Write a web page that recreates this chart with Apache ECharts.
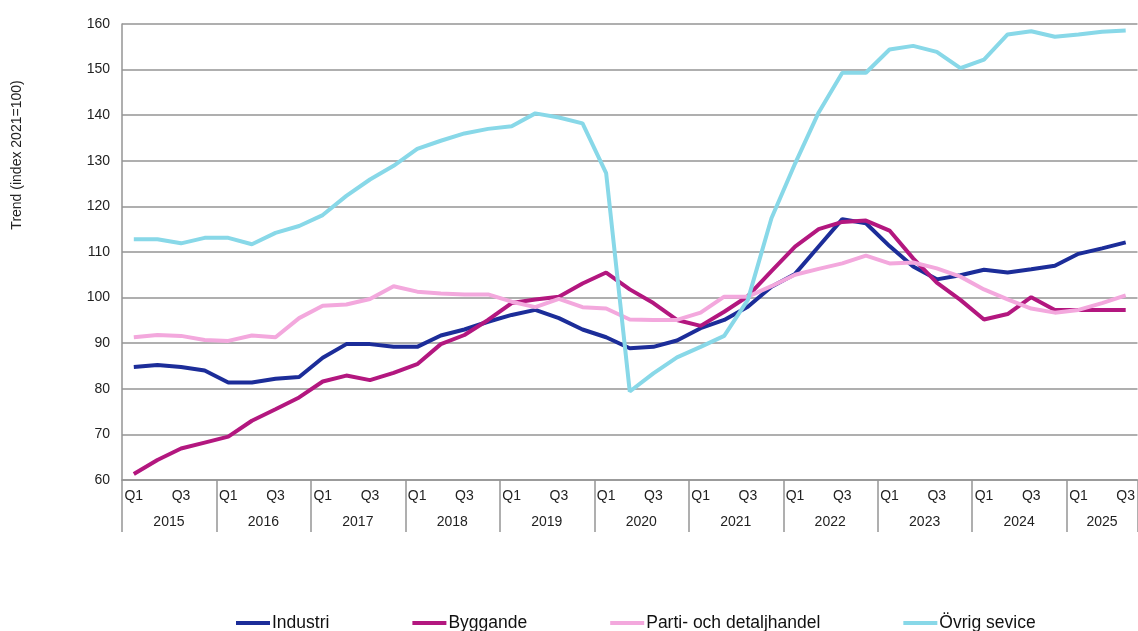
<!DOCTYPE html>
<html lang="sv">
<head>
<meta charset="utf-8">
<style type="text/css">
    html, body { margin: 0; padding: 0; background: #fff; }
    #chart { width: 1138px; height: 631px; }
</style>
</head>
<body>
<div id="chart"></div>
<script src="https://cdn.jsdelivr.net/npm/echarts@6/dist/echarts.min.js"></script>
<script type="text/javascript">
// quarters 2015 Q1 .. 2025 Q3
var years = ['2015', '2016', '2017', '2018', '2019', '2020', '2021', '2022', '2023', '2024', '2025'];
var quarters = ['Q1', 'Q2', 'Q3', 'Q4'];
var lastYearQuarters = 3;
var yTicks = [60, 70, 80, 90, 100, 110, 120, 130, 140, 150, 160];

var industri = [84.8, 85.2, 84.8, 84.0, 81.4, 81.4, 82.2, 82.6, 86.8, 89.8, 89.8, 89.2, 89.2, 91.7, 93.0, 94.7,
    96.2, 97.3, 95.5, 93.0, 91.3, 88.9, 89.2, 90.6, 93.3, 95.1, 98.0, 102.4, 105.2, 111.2, 117.2, 116.3,
    111.3, 106.8, 104.0, 104.9, 106.1, 105.5, 106.2, 107.0, 109.6, 110.8, 112.1];
var byggande = [61.3, 64.4, 66.9, 68.2, 69.5, 73.0, 75.5, 78.1, 81.6, 82.9, 81.9, 83.5, 85.4, 89.8, 91.8, 95.1,
    98.8, 99.6, 100.2, 103.1, 105.5, 101.8, 98.8, 95.1, 93.8, 96.9, 100.3, 105.8, 111.2, 115.0, 116.6, 116.9,
    114.7, 108.6, 103.3, 99.5, 95.2, 96.4, 100.1, 97.3, 97.3, 97.3, 97.3];
var parti = [91.3, 91.8, 91.6, 90.7, 90.5, 91.7, 91.3, 95.5, 98.2, 98.5, 99.7, 102.5, 101.3, 100.9, 100.7, 100.7,
    99.1, 97.9, 99.7, 97.9, 97.6, 95.2, 95.1, 95.1, 96.7, 100.2, 100.2, 102.5, 105.0, 106.3, 107.5, 109.2,
    107.5, 107.7, 106.4, 104.6, 101.8, 99.6, 97.6, 96.7, 97.3, 98.8, 100.5];
var ovrig = [112.8, 112.8, 111.9, 113.1, 113.1, 111.7, 114.2, 115.7, 118.1, 122.3, 125.9, 128.9, 132.6, 134.4, 136.0, 137.0,
    137.6, 140.4, 139.5, 138.2, 127.3, 79.4, 83.4, 86.9, 89.2, 91.6, 99.5, 117.4, 129.4, 140.6, 149.3, 149.3,
    154.4, 155.2, 153.9, 150.3, 152.2, 157.7, 158.4, 157.2, 157.7, 158.3, 158.6];

var seriesNames = ['Industri', 'Byggande', 'Parti- och detaljhandel', 'Övrig sevice'];
var seriesColors = ['#1c2d99', '#b3177f', '#f3a8dd', '#88d8e8'];

var categories = [];
years.forEach(function(y, yi) {
    var n = (yi === years.length - 1) ? lastYearQuarters : 4;
    for (var q = 0; q < n; q++) {
        categories.push(y + ' ' + quarters[q]);
    }
});

var myChart = echarts.init(document.getElementById('chart'));
var font = 'Liberation Sans, Arial, sans-serif';
var gridColor = '#959595';

var option = {
    animation: false,
    textStyle: { fontFamily: font },
    // plot runs up to the right edge of the picture, the last year tick falls outside
    grid: { left: 122, width: 1019, top: 24, bottom: 151 },
    legend: {
        left: 231,
        top: 609,
        icon: 'rect',
        itemWidth: 34,
        itemHeight: 4,
        itemGap: 83,
        textStyle: { fontSize: 17.5, color: '#111', fontFamily: font, padding: [0, 0, 0, -3] },
        data: seriesNames
    },
    graphic: [{
        type: 'text',
        x: 17,
        y: 155,
        rotation: Math.PI / 2,
        style: {
            text: 'Trend (index 2021=100)',
            fontSize: 14,
            fontFamily: font,
            fill: '#222',
            textAlign: 'center',
            textVerticalAlign: 'middle'
        }
    }],
    xAxis: [{
        type: 'category',
        data: categories,
        boundaryGap: true,
        axisLine: { lineStyle: { color: gridColor, width: 1.5 } },
        axisTick: {
            show: true,
            length: 52,
            interval: function(index) { return index % 4 === 0; },
            lineStyle: { color: gridColor, width: 1.5 }
        },
        axisLabel: {
            interval: 0,
            margin: 9,
            fontSize: 14,
            color: '#222',
            formatter: function(value) {
                var q = value.split(' ')[1];
                return (q === 'Q1' || q === 'Q3') ? q : '';
            }
        }
    }, {
        type: 'category',
        data: categories,
        position: 'bottom',
        boundaryGap: true,
        axisLine: { show: false },
        axisTick: { show: false },
        axisLabel: {
            interval: 0,
            margin: 35,
            fontSize: 14,
            color: '#222',
            formatter: function(value, index) {
                if (index % 4 !== 1) return '';
                var y = value.split(' ')[0];
                return y === years[years.length - 1] ? '{c|' + y + '}' : '{s|' + y + '}';
            },
            rich: {
                s: { fontSize: 14, color: '#222', padding: [0, 0, 0, 23] },
                c: { fontSize: 14, color: '#222' }
            }
        }
    }],
    yAxis: {
        type: 'value',
        min: yTicks[0],
        max: yTicks[yTicks.length - 1],
        interval: 10,
        axisLine: { show: true, lineStyle: { color: gridColor, width: 1.5 } },
        axisTick: { show: false },
        axisLabel: { fontSize: 14, color: '#222', margin: 12 },
        splitLine: { lineStyle: { color: gridColor, width: 1.5 } }
    },
    series: [industri, byggande, parti, ovrig].map(function(d, i) {
        return {
            name: seriesNames[i],
            type: 'line',
            data: d,
            symbol: 'none',
            smooth: false,
            color: seriesColors[i],
            lineStyle: { width: 4, color: seriesColors[i] }
        };
    })
};
myChart.setOption(option);
</script>
</body>
</html>
